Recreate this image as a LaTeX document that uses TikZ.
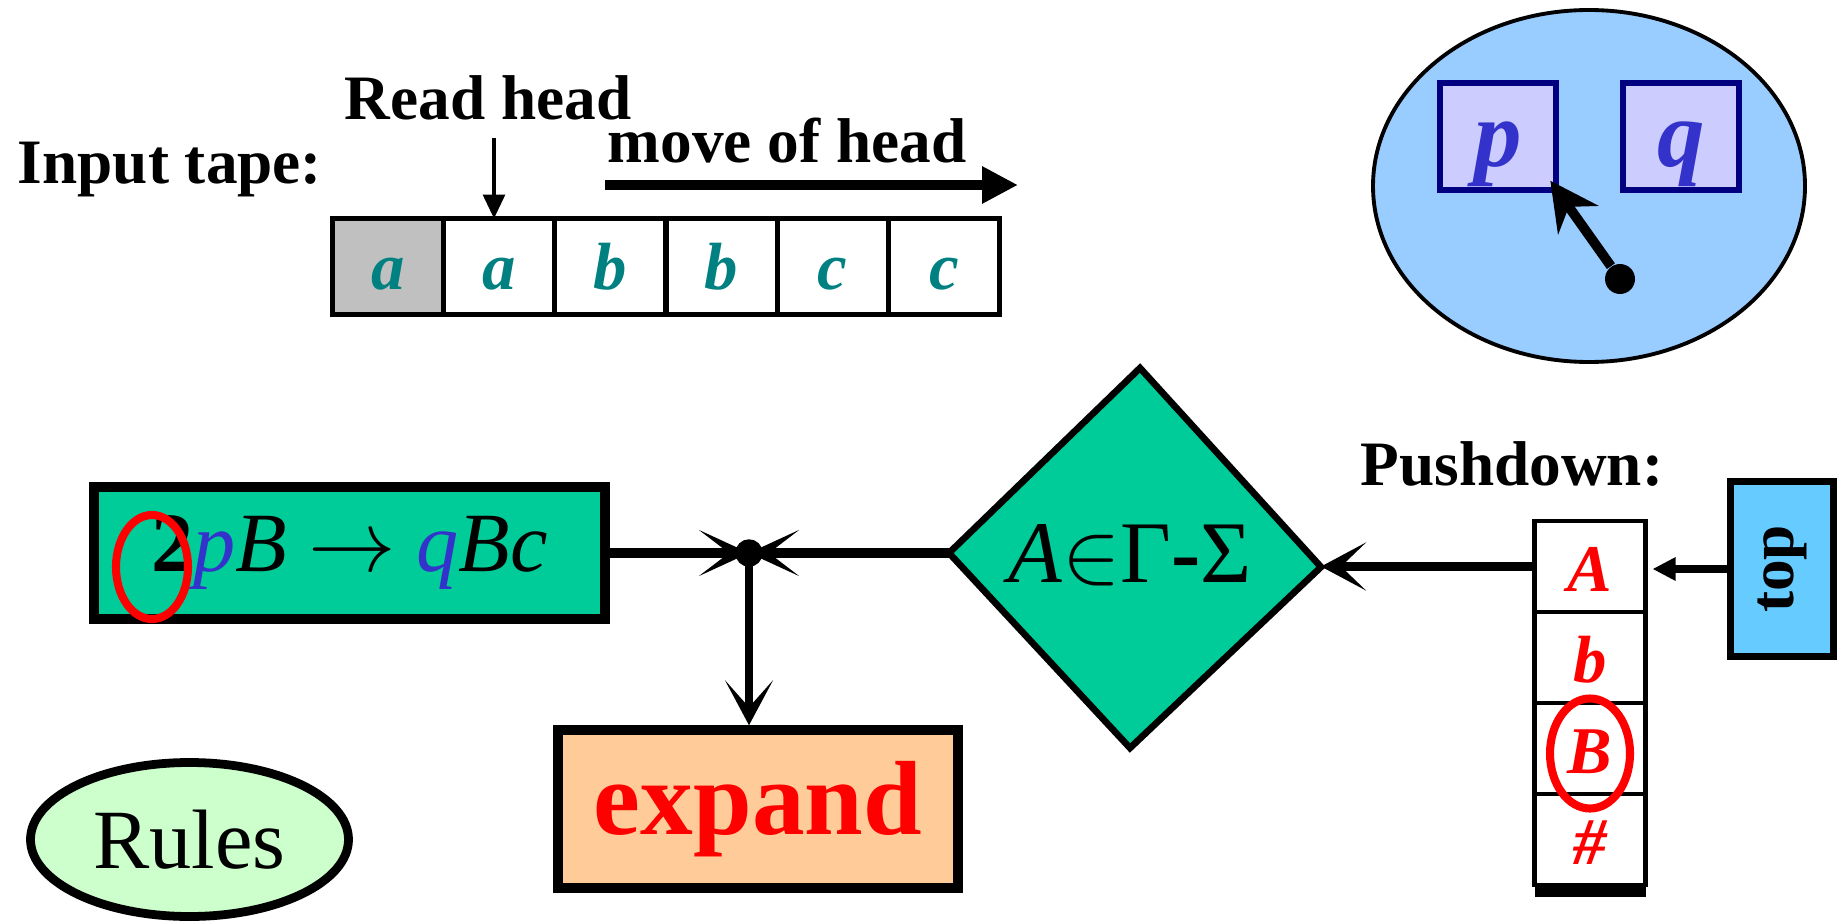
\documentclass[tikz,border=0pt]{standalone}
\usepackage{fontspec}
\setmainfont{Liberation Serif}
\usepackage{tikz}
\usetikzlibrary{shapes,arrows,arrows.meta,positioning,fit,calc}
\definecolor{tapeteal}{HTML}{008080}
\definecolor{cellgray}{HTML}{C0C0C0}
\definecolor{statefill}{HTML}{99CCFF}
\definecolor{pqfill}{HTML}{CCCCFF}
\definecolor{pqblue}{HTML}{3333CC}
\definecolor{boxnavy}{HTML}{000080}
\definecolor{rulefill}{HTML}{00CC99}
\definecolor{expandfill}{HTML}{FFCC99}
\definecolor{topfill}{HTML}{66CCFF}
\definecolor{rulesfill}{HTML}{CCFFCC}
\tikzstyle{tag} = [font=\fontsize{18}{21}\selectfont\bfseries, inner sep=0pt]
\tikzstyle{cell} = [draw, rectangle, line width=1.5pt, minimum width=11.12mm, minimum height=9.6mm,
    inner sep=0pt, outer sep=0pt, text height=13.3pt, text depth=0pt,
    font=\fontsize{19}{22}\selectfont\bfseries\itshape, text=tapeteal]
\tikzstyle{stackcell} = [draw, rectangle, line width=1.4pt, minimum width=11.1mm, minimum height=9.1mm,
    inner sep=0pt, outer sep=0pt, text height=14.5pt, text depth=0pt,
    font=\fontsize{19}{22}\selectfont\bfseries\itshape, text=red]
\tikzstyle{statebox} = [draw=boxnavy, fill=pqfill, line width=1.7pt, minimum width=11.6mm, minimum height=10.7mm,
    inner sep=0pt, text height=23pt, text depth=6pt,
    font=\fontsize{27}{30}\selectfont\bfseries\itshape, text=pqblue]
\tikzstyle{junction} = [draw, circle, fill, inner sep=0pt, minimum size=2.6mm]
\tikzstyle{headarrow} = [-{Triangle[length=2.4mm,width=2.2mm]}, line width=0.9pt]
\tikzstyle{movearrow} = [-{Triangle[length=3.6mm,width=3.5mm]}, line width=3pt]
\tikzstyle{needle} = [-{Stealth[length=4.8mm,width=4.9mm,inset=1.6mm]}, line width=2.8pt, shorten >=-1.5mm]
\tikzstyle{joinarrow} = [-{Stealth[length=5mm,width=4.6mm,inset=3mm]}, line width=2.8pt]
\tikzstyle{downarrow} = [-{Stealth[length=4.5mm,width=4.8mm,inset=2.7mm]}, line width=2.5pt]
\tikzstyle{pullarrow} = [-{Stealth[length=4.5mm,width=4.8mm,inset=2.5mm]}, line width=2.8pt]
\tikzstyle{pusharrow} = [-{Triangle[length=2.3mm,width=2.2mm]}, line width=2.3pt, shorten >=0.7mm]
\begin{document}
\begin{tikzpicture}[x=0.1mm, y=-0.1mm]
    \useasboundingbox (0,0) rectangle (1846,923);

    % input tape
    \node (tapelabel) [tag] at (170,170) {Input tape:};
    \node (c1) [cell, fill=cellgray] at (388,266.5) {a};
    \node (c2) [cell, right=0pt of c1] {a};
    \node (c3) [cell, right=0pt of c2] {b};
    \node (c4) [cell, right=0pt of c3] {b};
    \node (c5) [cell, right=0pt of c4] {c};
    \node (c6) [cell, right=0pt of c5] {c};
    \node (readhead) [tag] at (488,98) {Read head};
    \coordinate (headtop) at (494,138);
    \draw [headarrow] (headtop) -- (headtop |- c2.north);
    \node (movelabel) [tag] at (787,141) {move of head};
    \coordinate (movestart) at (605,185);
    \coordinate (moveend) at (1018,185);
    \draw [movearrow] (movestart) -- (moveend);

    % finite control
    \node (control) [ellipse, draw, fill=statefill, line width=1.1pt, minimum width=43.2mm, minimum height=35.2mm] at (1589,186) {};
    \node (p) [statebox] at (1498,136.5) {p};
    \node (q) [statebox] at (1681,136.5) {q};
    \node (pivot) [circle, fill, inner sep=0pt, minimum size=3mm] at (1620,279) {};
    \draw [needle] (pivot) -- (p.south east);

    % rule, test and action
    \node (rule) [draw, fill=rulefill, line width=2.8pt, minimum width=51.1mm, minimum height=13.2mm, inner sep=0pt,
        font=\fontsize{24}{28}\selectfont] at (349.5,553)
        {\textbf{2}\textit{\textcolor{pqblue}{p}B} $\rightarrow$ \textit{\textcolor{pqblue}{q}Bc}};
    \draw [red, line width=2.3pt] (152,567) ellipse [x radius=3.6mm, y radius=5.2mm];
    \node (junct) [junction] at (749,553) {};
    \node (expand) [draw, fill=expandfill, line width=2.7pt, minimum width=40mm, minimum height=15.8mm,
        font=\fontsize{30}{34}\selectfont\bfseries, text=red] at (758,809) {expand};
    \coordinate (dtop) at (1140,368);
    \coordinate (dleft) at (949,553);
    \coordinate (dright) at (1321,567);
    \coordinate (dbot) at (1130,748);
    \draw [fill=rulefill, line width=1.9pt] (dtop) -- (dright) -- (dbot) -- (dleft) -- cycle;
    \node (cond) [font=\fontsize{25}{28}\selectfont] at (1130,555) {\textit{A}$\in$Γ\textbf{-}Σ};
    \draw [joinarrow] (rule) -- (junct.center);
    \draw [joinarrow] (dleft) -- (junct.center);
    \draw [downarrow] (junct.center) -- (junct |- expand.north);

    % pushdown
    \node (pushlabel) [tag] at (1512,464) {Pushdown:};
    \node (s1) [stackcell] at (1590,566.5) {A};
    \node (s2) [stackcell, below=0pt of s1] {b};
    \node (s3) [stackcell, below=0pt of s2] {B};
    \node (s4) [stackcell, below=0pt of s3] {\#};
    \draw [line width=3.4pt] ([yshift=-0.6mm]s4.south west) -- ([yshift=-0.6mm]s4.south east);
    \draw [red, line width=2.3pt] ([yshift=-0.5mm]s3.center) ellipse [x radius=4mm, y radius=5.5mm];
    \node (topbox) [draw, fill=topfill, line width=2pt, minimum width=10.3mm, minimum height=17.5mm, inner sep=0pt,
        font=\fontsize{18}{21}\selectfont\bfseries] at (1782,569) {\rotatebox{90}{top}};
    \draw [pusharrow] (topbox.west) -- (topbox.west -| s1.east);
    \draw [pullarrow] (s1.west) -- (s1.west -| dright);

    \node (rules) [ellipse, draw, fill=rulesfill, line width=2.5pt, minimum width=31.8mm, minimum height=15.4mm,
        font=\fontsize{24}{28}\selectfont] at (189.5,839.5) {Rules};
\end{tikzpicture}
\end{document}
